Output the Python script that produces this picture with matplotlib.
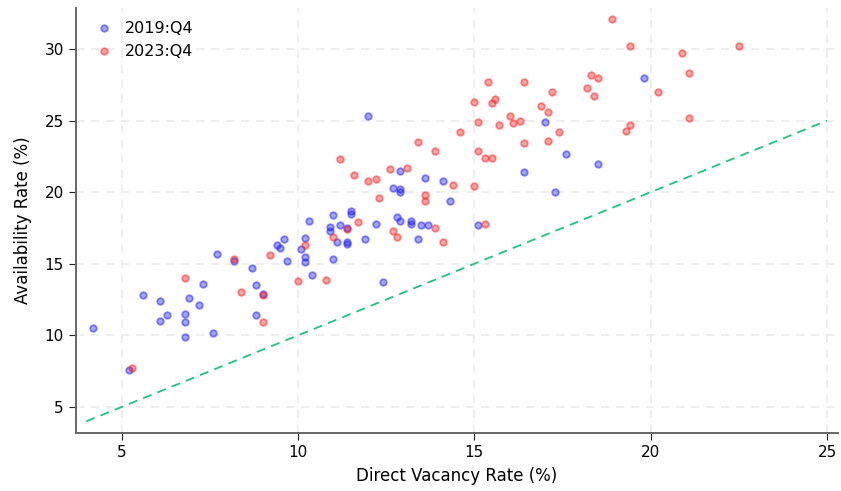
import matplotlib
matplotlib.use("Agg")
import matplotlib.pyplot as plt

# direct vacancy vs availability, by market
vac_2019 = [4.2, 5.2, 5.6, 6.1, 6.1, 6.3, 6.8, 6.8, 6.8, 6.9, 7.2, 7.3, 7.6, 7.7, 8.2,
            8.7, 8.8, 8.8, 9.0, 9.4, 9.5, 9.6, 9.7, 10.1, 10.2, 10.2, 10.2, 10.3, 10.4,
            12.0, 12.9, 13.6, 14.1, 12.7, 12.9, 12.9, 14.3, 11.5, 11.5, 11.0, 10.9, 10.9,
            11.2, 11.4, 12.2, 12.8, 12.9, 13.2, 13.2, 13.5, 13.7, 15.1, 11.1, 11.4, 11.4,
            11.9, 13.4, 11.0, 12.4, 19.8, 17.0, 17.6, 18.5, 16.4, 17.3]
avail_2019 = [10.5, 7.6, 12.8, 12.4, 11.0, 11.4, 11.5, 10.9, 9.9, 12.6, 12.1, 13.6, 10.2, 15.7, 15.2,
              14.7, 13.5, 11.4, 12.9, 16.3, 16.1, 16.7, 15.2, 16.0, 16.8, 15.5, 15.1, 18.0, 14.2,
              25.3, 21.5, 21.0, 20.8, 20.3, 20.2, 20.0, 19.4, 18.7, 18.5, 18.4, 17.6, 17.3,
              17.7, 17.5, 17.8, 18.3, 18.0, 18.0, 17.8, 17.7, 17.7, 17.7, 16.5, 16.5, 16.4,
              16.7, 16.7, 15.3, 13.7, 28.0, 24.9, 22.7, 22.0, 21.4, 20.0]

vac_2023 = [6.8, 8.2, 8.4, 9.0, 9.0, 9.2, 10.0, 10.2, 10.8, 5.3,
            15.0, 15.5, 15.1, 15.7, 14.6, 13.4, 13.9, 15.1, 15.3, 15.5, 11.2, 12.6, 13.1,
            11.6, 12.0, 12.2, 14.4, 15.0, 13.6, 13.6, 12.3, 11.7, 11.4, 15.3, 12.7, 12.8,
            13.9, 14.1, 11.0,
            18.9, 19.4, 20.9, 21.1, 18.3, 18.5, 18.2, 18.4, 20.2, 15.4, 16.4, 17.2, 15.6,
            16.9, 17.1, 16.0, 16.3, 16.1, 21.1, 19.4, 19.3, 17.4, 17.1, 16.4, 22.5]
avail_2023 = [14.0, 15.3, 13.0, 12.8, 10.9, 15.6, 13.8, 16.3, 13.9, 7.7,
              26.3, 26.2, 24.9, 24.7, 24.2, 23.5, 22.9, 22.9, 22.4, 22.4, 22.3, 21.6, 21.7,
              21.2, 20.8, 20.9, 20.5, 20.4, 19.8, 19.4, 19.6, 17.9, 17.4, 17.8, 17.3, 16.9,
              17.5, 16.5, 16.9,
              32.1, 30.2, 29.7, 28.3, 28.2, 28.0, 27.3, 26.7, 27.0, 27.7, 27.7, 27.0, 26.5,
              26.0, 25.6, 25.3, 25.0, 24.8, 25.2, 24.7, 24.3, 24.2, 23.6, 23.4, 30.2]

parity = [4, 25]

fig = plt.figure(figsize=(8.41, 4.91), dpi=100)
ax = fig.add_axes([0.090, 0.118, 0.906, 0.866])

# translucent fill with a stronger ring
ax.scatter(vac_2019, avail_2019, s=22, facecolors=(0, 0, 1, 0.35),
           edgecolors=(0.15, 0.15, 1, 0.55), linewidths=1.3, label="2019:Q4", zorder=3)
ax.scatter(vac_2023, avail_2023, s=22, facecolors=(1, 0, 0, 0.35),
           edgecolors=(1, 0.15, 0.15, 0.55), linewidths=1.3, label="2023:Q4", zorder=3)
ax.plot(parity, parity, ls=(0, (5, 3.5)), color="#1cc47f", lw=1.3, zorder=2)

ax.set_xlim(3.7, 25.3)
ax.set_ylim(3.18, 32.87)
ax.set_xticks([5, 10, 15, 20, 25])
ax.set_yticks([5, 10, 15, 20, 25, 30])
ax.grid(True, ls=(0, (5, 4)), color="#ebebeb", lw=1.2, zorder=0)
for side in ("top", "right"):
    ax.spines[side].set_visible(False)
for side in ("left", "bottom"):
    ax.spines[side].set_color("#666666")
    ax.spines[side].set_linewidth(1.4)
ax.tick_params(labelsize=11, length=5, color="#222222")
ax.set_xlabel("Direct Vacancy Rate (%)", fontsize=12, labelpad=5)
ax.set_ylabel("Availability Rate (%)", fontsize=12, labelpad=9)

ax.legend(loc="upper left", frameon=False, fontsize=11.5, handletextpad=0.3,
          borderaxespad=0.4)

fig.savefig("out.png", dpi=100)
